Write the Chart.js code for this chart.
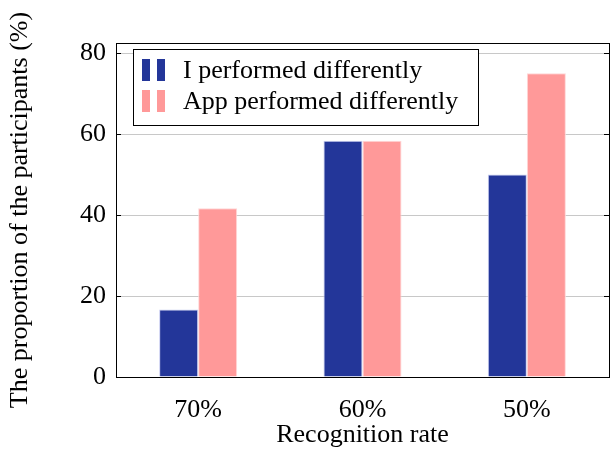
<!DOCTYPE html>
<html>
<head>
<meta charset="utf-8">
<script src="https://cdn.jsdelivr.net/npm/chart.js@4"></script>
<style>
  html, body { margin: 0; padding: 0; background: #fff; }
  #wrap { width: 610px; height: 451px; }
</style>
</head>
<body>
<div id="wrap"><canvas id="myChart" width="610" height="451"></canvas></div>
<script>
// data
const categories = ['70%', '60%', '50%'];
const iPerformed = [16.67, 58.33, 50];
const appPerformed = [41.67, 58.33, 75];
const yTicks = [0, 20, 40, 60, 80];
const seriesNames = ['I performed differently', 'App performed differently'];

const blue = 'rgb(35, 54, 153)';
const pink = 'rgb(255, 153, 153)';
const font = "'Liberation Serif', 'Times New Roman', serif";

// box around plot, pgfplots-style tick marks and a custom legend
const boxPlugin = {
    id: 'boxPlugin',
    afterDraw(chart) {
        const ctx = chart.ctx;
        const a = chart.chartArea;
        const y = chart.scales.y;
        ctx.save();
        ctx.strokeStyle = '#000';
        ctx.lineWidth = 1;
        ctx.strokeRect(a.left + 0.5, a.top + 0.5, a.right - a.left, a.bottom - a.top);
        yTicks.forEach(function (v) {
            const py = Math.round(y.getPixelForValue(v)) + 0.5;
            ctx.beginPath();
            ctx.moveTo(a.left, py); ctx.lineTo(a.left + 5, py);
            ctx.moveTo(a.right - 5, py); ctx.lineTo(a.right, py);
            ctx.stroke();
        });

        // legend
        const lx = 133, ly = 49, lw = 345, lh = 76;
        ctx.fillStyle = '#fff';
        ctx.fillRect(lx, ly, lw, lh);
        ctx.strokeRect(lx + 0.5, ly + 0.5, lw, lh);
        const colors = [blue, pink];
        chart.data.datasets.forEach(function (ds, i) {
            const cy = ly + 21 + i * 31;
            ctx.fillStyle = colors[i];
            ctx.fillRect(lx + 9, cy - 11, 8, 22);
            ctx.fillRect(lx + 24, cy - 11, 8, 22);
            ctx.fillStyle = '#000';
            ctx.font = '26px ' + font;
            ctx.textBaseline = 'middle';
            ctx.textAlign = 'left';
            ctx.fillText(ds.label, lx + 50, cy + 1);
        });
        ctx.restore();
    }
};

const ctx = document.getElementById('myChart').getContext('2d');
const myChart = new Chart(ctx, {
    type: 'bar',
    data: {
        labels: categories,
        datasets: [
            {
                label: seriesNames[0],
                data: iPerformed,
                backgroundColor: blue,
                borderColor: 'rgba(200, 205, 240, 1)',
                borderWidth: 1,
                borderSkipped: 'bottom'
            },
            {
                label: seriesNames[1],
                data: appPerformed,
                backgroundColor: pink,
                borderColor: 'rgba(255, 215, 215, 1)',
                borderWidth: 1,
                borderSkipped: 'bottom'
            }
        ]
    },
    options: {
        responsive: false,
        animation: false,
        categoryPercentage: 0.475,
        barPercentage: 1,
        layout: { padding: { top: 43, right: 1, left: 0, bottom: 0 } },
        plugins: {
            legend: { display: false },
            tooltip: { enabled: false }
        },
        scales: {
            x: {
                grid: { display: false },
                border: { color: '#000', width: 1 },
                ticks: { color: '#000', font: { family: font, size: 26 }, padding: 10 },
                title: {
                    display: true,
                    text: 'Recognition rate',
                    color: '#000',
                    font: { family: font, size: 26 },
                    padding: { top: 0, bottom: 0 }
                },
                afterFit: function (scale) { scale.height = 74; }
            },
            y: {
                min: 0,
                max: 82.5,
                afterBuildTicks: function (scale) {
                    scale.ticks = yTicks.map(function (v) { return { value: v }; });
                },
                grid: {
                    color: function (c) { return c.tick && c.tick.value === 0 ? 'rgba(0,0,0,0)' : '#c8c8c8'; },
                    drawTicks: false
                },
                border: { color: '#000', width: 1 },
                ticks: { color: '#000', font: { family: font, size: 26 }, padding: 10 },
                title: {
                    display: true,
                    text: 'The proportion of the participants (%)',
                    color: '#000',
                    font: { family: font, size: 26 },
                    padding: { top: 5, bottom: 9 }
                },
                afterFit: function (scale) { scale.width = 116; }
            }
        }
    },
    plugins: [boxPlugin]
});
</script>
</body>
</html>
